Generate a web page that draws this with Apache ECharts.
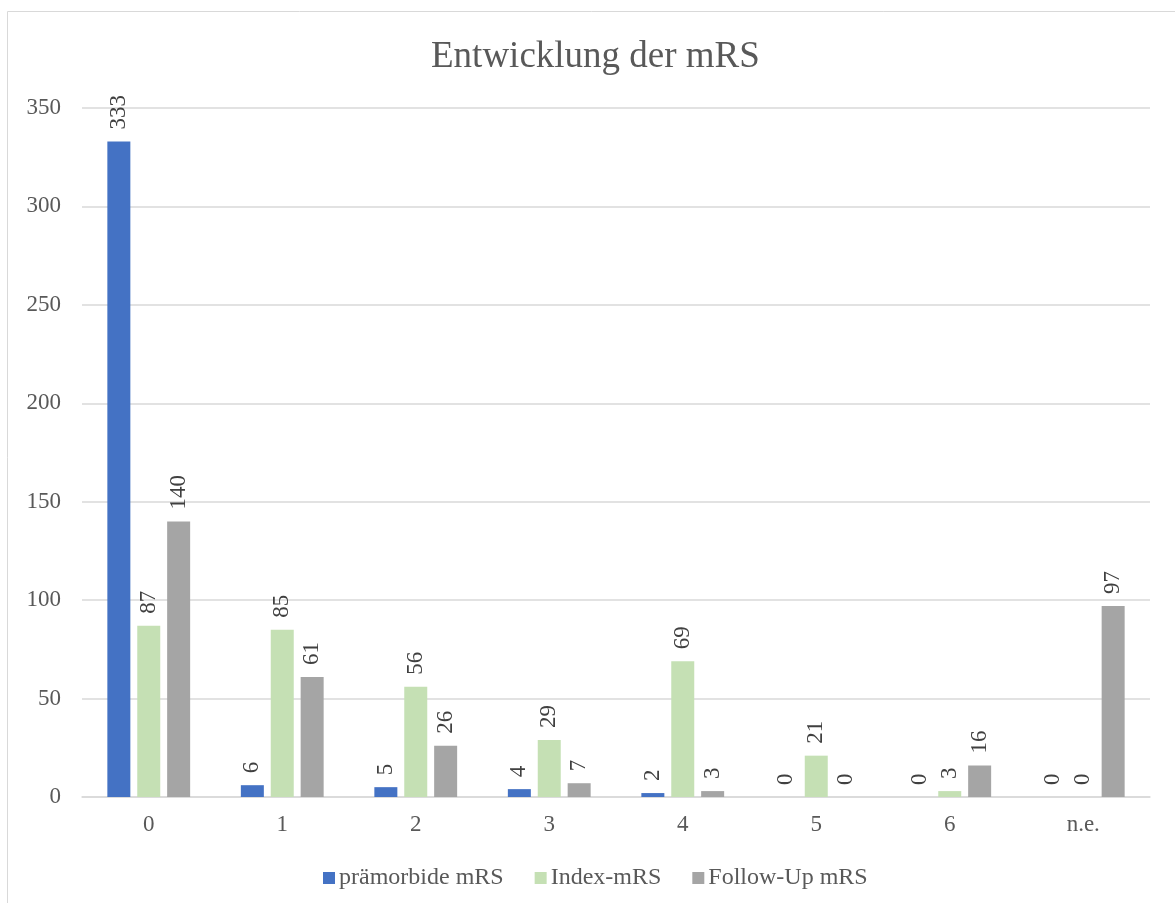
<!DOCTYPE html>
<html><head><meta charset="utf-8">
<script src="https://cdn.jsdelivr.net/npm/echarts@6/dist/echarts.min.js"></script>
<style>html,body{margin:0;padding:0;background:#fff}#c{width:1175px;height:903px}</style>
</head><body><div id="c"></div>
<script>
const categories = ['0','1','2','3','4','5','6','n.e.'];
const praemorbide = [333,6,5,4,2,0,0,0];
const indexMRS = [87,85,56,29,69,21,3,0];
const followUp = [140,61,26,7,3,0,16,97];
const seriesNames = ['prämorbide mRS','Index-mRS','Follow-Up mRS'];
const colors = ['#4472C4','#C5E0B4','#A5A5A5'];
const font = '"Liberation Serif","Times New Roman",serif';
const chart = echarts.init(document.getElementById('c'));
const lbl = {show:true, position:'top', rotate:90, align:'left', verticalAlign:'middle', distance:12, color:'#404040', fontFamily:font, fontSize:23};
function s(name, data, i){return {name, type:'bar', data, barWidth:23, barGap:'30%', itemStyle:{color:colors[i]}, label:lbl};}
chart.setOption({
  animation:false,
  graphic:[{type:'rect', shape:{x:7.5,y:11.5,width:1200,height:1000}, style:{fill:null, stroke:'#D9D9D9', lineWidth:1}}],
  title:{text:'Entwicklung der mRS', left:426, top:34, textStyle:{fontFamily:font, fontSize:37, fontWeight:'normal', color:'#595959'}},
  legend:{bottom:8, left:318, itemWidth:12, itemHeight:12, itemGap:31, icon:'rect', textStyle:{fontFamily:font, fontSize:24, color:'#595959', padding:[0,0,0,-1]}, data:seriesNames},
  grid:{left:82, right:25, top:108, bottom:106, containLabel:false},
  xAxis:{type:'category', data:categories, axisLine:{lineStyle:{color:'#D9D9D9', width:1.5}}, axisTick:{show:false}, axisLabel:{fontFamily:font, fontSize:23, color:'#595959', margin:16}},
  yAxis:{type:'value', min:0, max:350, interval:50, axisLine:{show:false}, axisTick:{show:false}, splitLine:{lineStyle:{color:'#D9D9D9', width:1.5}}, axisLabel:{fontFamily:font, fontSize:23, color:'#595959', margin:21}},
  series:[s(seriesNames[0],praemorbide,0), s(seriesNames[1],indexMRS,1), s(seriesNames[2],followUp,2)]
});
</script></body></html>
